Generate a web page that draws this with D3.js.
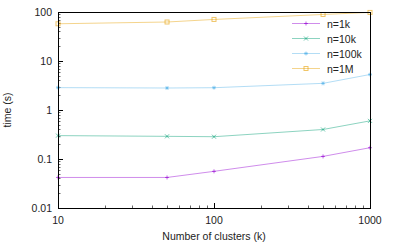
<!DOCTYPE html>
<html>
<head>
<meta charset="utf-8">
<script src="https://cdn.jsdelivr.net/npm/d3@7"></script>
<style>
  body { margin: 0; background: #fff; }
  text { font-family: "Liberation Sans", Arial, sans-serif; font-size: 10.5px; fill: #222; }
</style>
</head>
<body>
<script>
// data
let clusters = [10, 50, 100, 500, 1000];
let seriesNames = ["n=1k", "n=10k", "n=100k", "n=1M"];
let t1k = [0.042, 0.042, 0.056, 0.113, 0.17];
let t10k = [0.30, 0.29, 0.285, 0.40, 0.60];
let t100k = [2.86, 2.81, 2.85, 3.5, 5.3];
let t1M = [57.5, 62.5, 70.5, 89, 98];
let xTicks = [10, 100, 1000];
let yTicks = [0.01, 0.1, 1, 10, 100];

let colors = ["#9400d3", "#009e73", "#56b4e9", "#e69f00"];
let markers = ["plus", "cross", "star", "square"];
let series = [t1k, t10k, t100k, t1M];

let margin = { top: 12, right: 45, bottom: 34, left: 58 },
  width = 415 - margin.left - margin.right,
  height = 242 - margin.top - margin.bottom;

let svg = d3.select("body").append("svg")
  .attr("width", 415)
  .attr("height", 242)
  .append("g")
  .attr("transform", "translate(" + margin.left + "," + margin.top + ")");

let x = d3.scaleLog().domain([10, 1000]).range([0, width]);
let y = d3.scaleLog().domain([0.01, 100]).range([height, 0]);

// minor ticks (2..9 per decade), drawn inward
let minorX = [], minorY = [];
for (let d = 10; d < 1000; d *= 10)
  for (let k = 2; k < 10; k++) minorX.push(d * k);
for (let d = 0.01; d < 99; d *= 10)
  for (let k = 2; k < 10; k++) minorY.push(+(d * k).toPrecision(3));

let g = svg.append("g").attr("stroke", "#000").attr("stroke-width", 1);
g.selectAll(".mx").data(minorX).enter().append("line")
  .attr("x1", d => Math.round(x(d)) + 0.5).attr("x2", d => Math.round(x(d)) + 0.5)
  .attr("y1", height).attr("y2", height - 2.5).attr("stroke", "#666");
g.selectAll(".my").data(minorY).enter().append("line")
  .attr("y1", d => Math.round(y(d)) + 0.5).attr("y2", d => Math.round(y(d)) + 0.5)
  .attr("x1", 0).attr("x2", 2.5).attr("stroke", "#666");
g.selectAll(".Mx").data(xTicks).enter().append("line")
  .attr("x1", d => Math.round(x(d)) + 0.5).attr("x2", d => Math.round(x(d)) + 0.5)
  .attr("y1", height).attr("y2", height - 5);
g.selectAll(".My").data(yTicks).enter().append("line")
  .attr("y1", d => Math.round(y(d)) + 0.5).attr("y2", d => Math.round(y(d)) + 0.5)
  .attr("x1", 0).attr("x2", 5);

// tick labels
svg.selectAll(".xl").data(xTicks).enter().append("text")
  .attr("x", d => x(d)).attr("y", height + 16)
  .attr("text-anchor", "middle")
  .text(d => d);
svg.selectAll(".yl").data(yTicks).enter().append("text")
  .attr("x", -6).attr("y", d => y(d) + 4)
  .attr("text-anchor", "end")
  .text(d => d);

// axis titles
svg.append("text")
  .attr("x", width / 2).attr("y", height + 32)
  .attr("text-anchor", "middle")
  .text("Number of clusters (k)");
svg.append("text")
  .attr("transform", "translate(-47," + (height / 2) + ") rotate(-90)")
  .attr("text-anchor", "middle")
  .text("time (s)");

// lines
let line = d3.line()
  .x((d, i) => x(clusters[i]))
  .y(d => y(d));

function marker(sel, type, color) {
  let s = 2;
  if (type == "plus") {
    sel.append("path").attr("d", `M${-s},0H${s}M0,${-s}V${s}`);
  } else if (type == "cross") {
    sel.append("path").attr("d", `M${-s},${-s}L${s},${s}M${-s},${s}L${s},${-s}`);
  } else if (type == "star") {
    sel.append("path").attr("d", `M${-s},0H${s}M0,${-s}V${s}M${-s * 0.7},${-s * 0.7}L${s * 0.7},${s * 0.7}M${-s * 0.7},${s * 0.7}L${s * 0.7},${-s * 0.7}`);
  } else {
    sel.append("rect").attr("x", -s).attr("y", -s).attr("width", 2 * s).attr("height", 2 * s)
      .attr("fill", "none");
  }
  sel.attr("stroke", color).attr("stroke-width", 1).attr("stroke-opacity", 0.6);
}

let plot = svg.append("g");
series.forEach((vals, si) => {
  plot.append("path")
    .datum(vals)
    .attr("d", line)
    .attr("fill", "none")
    .attr("stroke", colors[si])
    .attr("stroke-opacity", 0.45)
    .attr("stroke-width", 1);
  vals.forEach((v, i) => {
    let m = plot.append("g").attr("transform", "translate(" + x(clusters[i]) + "," + y(v) + ")");
    marker(m, markers[si], colors[si]);
  });
});

// border
svg.append("rect")
  .attr("x", 0.5).attr("y", 0.5)
  .attr("width", width).attr("height", height)
  .attr("fill", "none").attr("stroke", "#000").attr("stroke-width", 1);

// legend
let leg = svg.append("g").attr("transform", "translate(" + (width - 78) + ",11.5)");
seriesNames.forEach((name, si) => {
  let row = leg.append("g").attr("transform", "translate(0," + si * 15 + ")");
  row.append("line").attr("x1", 0).attr("x2", 28).attr("y1", 0).attr("y2", 0)
    .attr("stroke", colors[si]).attr("stroke-opacity", 0.45).attr("stroke-width", 1);
  let m = row.append("g").attr("transform", "translate(14,0)");
  marker(m, markers[si], colors[si]);
  row.append("text").attr("x", 35).attr("y", 4).text(name);
});
</script>
</body>
</html>
